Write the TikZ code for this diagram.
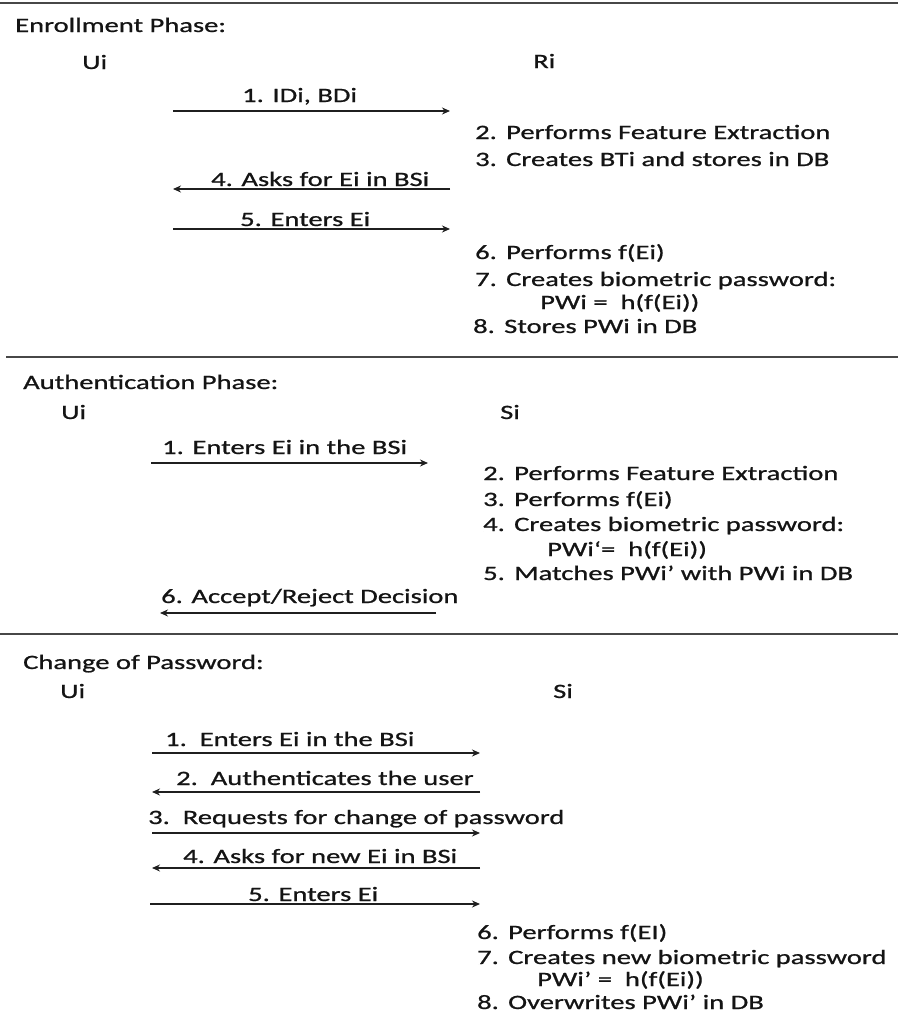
\documentclass[tikz,border=0pt]{standalone}
\usepackage{fontspec}
\setmainfont{Carlito}[FakeStretch=1.4,FakeBold=0.9]
\usetikzlibrary{arrows.meta}
% numbered step with a fixed-width number column
\newcommand\stepitem[2]{\makebox[31pt][l]{#1}#2}
\begin{document}
\begin{tikzpicture}[x=1pt,y=-1pt,
  txt/.style={anchor=base west, inner sep=0pt, font=\fontsize{20.4}{24}\selectfont, text=black!92},
  msg/.style={line width=2.1pt, draw=black!88, -{Stealth[length=8pt,width=7pt]}},
  rule/.style={line width=2.8pt, draw=black!72}]
\useasboundingbox (0,0) rectangle (898,1020);

% ---------------- Enrollment phase ----------------
\coordinate (rA1) at (0,3);   \coordinate (rA2) at (898,3);
\draw[rule] (rA1) -- (rA2);
\node[txt] (h1) at (15,32) {Enrollment Phase:};
\node[txt] (u1) at (82,69) {Ui};
\node[txt] (r1) at (533,68) {Ri};

\coordinate (e1a) at (173,111); \coordinate (e1b) at (450,111);
\draw[msg] (e1a) -- (e1b);
\node[txt] (l1) at (242,102) {1. IDi, BDi};
\node[txt] (e2) at (475,139) {\stepitem{2.}{Performs Feature Extraction}};
\node[txt] (e3) at (475,166) {\stepitem{3.}{Creates BTi and stores in DB}};
\coordinate (e4a) at (450,189); \coordinate (e4b) at (173,189);
\draw[msg] (e4a) -- (e4b);
\node[txt] (l4) at (211,186) {4. Asks for Ei in BSi};
\coordinate (e5a) at (173,229); \coordinate (e5b) at (450,229);
\draw[msg] (e5a) -- (e5b);
\node[txt] (l5) at (240,226) {5. Enters Ei};
\node[txt] (e6) at (475,259) {\stepitem{6.}{Performs f(Ei)}};
\node[txt] (e7) at (475,286) {\stepitem{7.}{Creates biometric password:}};
\node[txt] (e7b) at (540,309) {PWi =\ \ h(f(Ei))};
\node[txt] (e8) at (473,333) {\stepitem{8.}{Stores PWi in DB}};

% ---------------- Authentication phase ----------------
\coordinate (rB1) at (6,357);  \coordinate (rB2) at (898,357);
\draw[rule] (rB1) -- (rB2);
\node[txt] (h2) at (23,389) {Authentication Phase:};
\node[txt] (u2) at (61,419) {Ui};
\node[txt] (s2) at (500,419) {Si};

\coordinate (a1a) at (151,463); \coordinate (a1b) at (428,463);
\draw[msg] (a1a) -- (a1b);
\node[txt] (m1) at (162,454) {1. Enters Ei in the BSi};
\node[txt] (a2) at (483,480) {\stepitem{2.}{Performs Feature Extraction}};
\node[txt] (a3) at (483,506) {\stepitem{3.}{Performs f(Ei)}};
\node[txt] (a4) at (483,531) {\stepitem{4.}{Creates biometric password:}};
\node[txt] (a4b) at (547,556) {PWi‘=\ \ h(f(Ei))};
\node[txt] (a5) at (483,580) {\stepitem{5.}{Matches PWi’ with PWi in DB}};
\coordinate (a6a) at (436,613); \coordinate (a6b) at (160,613);
\draw[msg] (a6a) -- (a6b);
\node[txt] (m6) at (161,603) {6. Accept/Reject Decision};

% ---------------- Change of password ----------------
\coordinate (rC1) at (0,634);  \coordinate (rC2) at (898,634);
\draw[rule] (rC1) -- (rC2);
\node[txt] (h3) at (23,669) {Change of Password:};
\node[txt] (u3) at (60,698) {Ui};
\node[txt] (s3) at (553,698) {Si};

\coordinate (c1a) at (152,753); \coordinate (c1b) at (480,753);
\draw[msg] (c1a) -- (c1b);
\node[txt] (n1) at (165,746) {1.\ \ Enters Ei in the BSi};
\coordinate (c2a) at (480,792); \coordinate (c2b) at (152,792);
\draw[msg] (c2a) -- (c2b);
\node[txt] (n2) at (176,785) {2.\ \ Authenticates the user};
\coordinate (c3a) at (152,833); \coordinate (c3b) at (480,833);
\draw[msg] (c3a) -- (c3b);
\node[txt] (n3) at (148,824) {3.\ \ Requests for change of password};
\coordinate (c4a) at (480,868); \coordinate (c4b) at (152,868);
\draw[msg] (c4a) -- (c4b);
\node[txt] (n4) at (183,863) {4. Asks for new Ei in BSi};
\coordinate (c5a) at (150,904); \coordinate (c5b) at (480,904);
\draw[msg] (c5a) -- (c5b);
\node[txt] (n5) at (248,901) {5. Enters Ei};
\node[txt] (c6) at (477,939) {\stepitem{6.}{Performs f(EI)}};
\node[txt] (c7) at (477,964) {\stepitem{7.}{Creates new biometric password}};
\node[txt] (c7b) at (537,986) {PWi’ =\ \ h(f(Ei))};
\node[txt] (c8) at (477,1009) {\stepitem{8.}{Overwrites PWi’ in DB}};
\end{tikzpicture}
\end{document}
